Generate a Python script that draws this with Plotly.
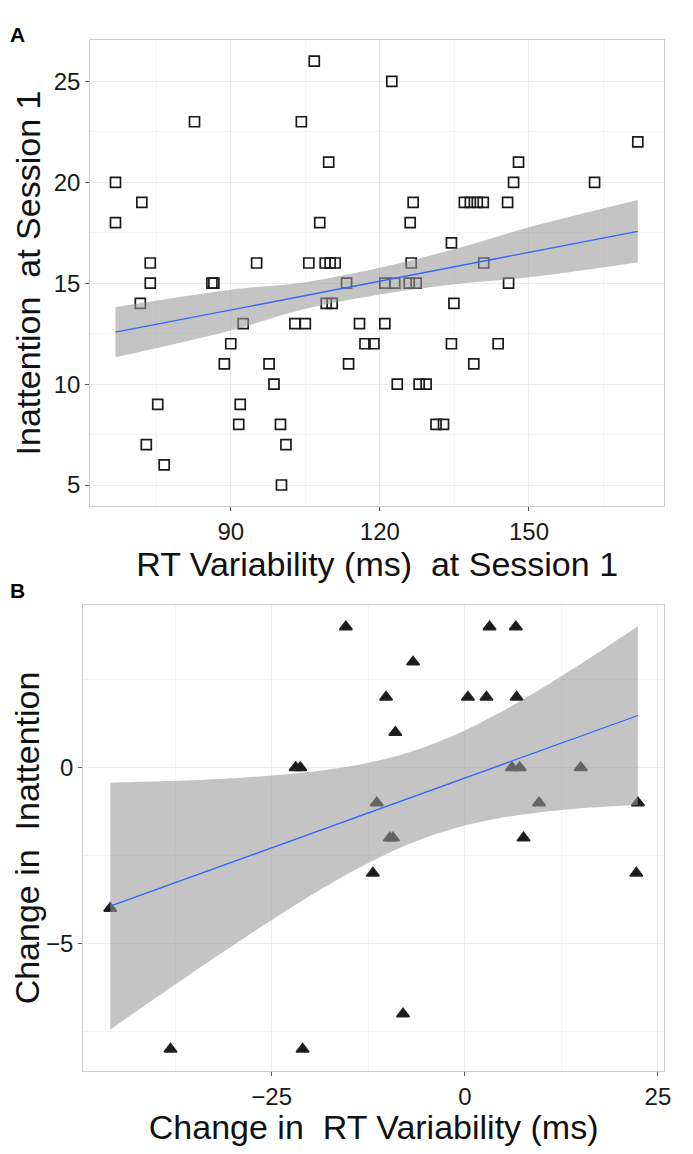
import numpy as np
import plotly.graph_objects as go

# Panel A: RT variability vs inattention at session 1
rt_s1 = [66.8, 66.8, 72.1, 71.8, 73.8, 73.8, 73.0, 75.3, 76.6, 82.7,
         86.2, 86.6, 88.7, 90.0, 91.6, 91.9, 92.5, 95.2, 97.7, 98.7,
         100.0, 100.2, 101.1, 102.9, 104.2, 105.0, 105.7, 106.8, 107.9, 109.0,
         110.0, 111.0, 109.2, 110.4, 109.7, 113.3, 113.7, 115.9, 117.0, 118.8,
         121.0, 121.0, 122.4, 123.0, 123.5, 125.9, 127.3, 126.1, 126.3, 126.7,
         127.9, 129.3, 131.3, 132.8, 134.4, 134.4, 134.9, 137.0, 138.2, 139.6,
         140.8, 138.9, 140.9, 143.8, 145.7, 145.9, 146.9, 147.9, 163.2, 171.9]
inatt_s1 = [20, 18, 19, 14, 16, 15, 7, 9, 6, 23,
            15, 15, 11, 12, 8, 9, 13, 16, 11, 10,
            8, 5, 7, 13, 23, 13, 16, 26, 18, 16,
            16, 16, 14, 14, 21, 15, 11, 13, 12, 12,
            13, 15, 25, 15, 10, 15, 15, 18, 16, 19,
            10, 10, 8, 8, 17, 12, 14, 19, 19, 19,
            19, 11, 16, 12, 19, 15, 20, 21, 20, 22]

# Panel A smoother (many overlapping points are hidden)
fit_x_a = [66.8, 90, 105, 120, 135, 150, 171.9]
fit_y_a = [12.57, 13.67, 14.39, 15.1, 15.82, 16.53, 17.57]
fit_lo_a = [11.33, 12.66, 13.73, 14.44, 14.95, 15.29, 16.02]
fit_hi_a = [13.82, 14.68, 15.05, 15.76, 16.69, 17.77, 19.12]

# Panel B: change scores
rt_change = [-45.9, -38.1, -21.9, -21.3, -21.0, -15.4, -11.9, -11.4, -10.2, -9.7,
             -9.3, -9.0, -8.0, -6.7, 0.4, 2.8, 3.2, 6.1, 6.6, 6.7,
             7.1, 7.6, 9.6, 15.0, 22.2, 22.4]
inatt_change = [-4, -8, 0, 0, -8, 4, -3, -1, 2, -2,
                -2, 1, -7, 3, 2, 2, 4, 0, 4, 2,
                0, -2, -1, 0, -3, -1]

FONT = "Liberation Sans"


def t975(df):
    # Cornish-Fisher approximation of the 97.5% t quantile
    z = 1.959964
    return z + (z**3 + z) / (4 * df) + (5 * z**5 + 16 * z**3 + 3 * z) / (96 * df**2)


def lm_band(x, y, n=80):
    x = np.asarray(x, float)
    y = np.asarray(y, float)
    b, a = np.polyfit(x, y, 1)
    resid = y - (a + b * x)
    df = len(x) - 2
    s = np.sqrt(np.sum(resid**2) / df)
    xs = np.linspace(x.min(), x.max(), n)
    se = s * np.sqrt(1 / len(x) + (xs - x.mean())**2 / np.sum((x - x.mean())**2))
    fit = a + b * xs
    w = t975(df) * se
    return xs, fit, fit - w, fit + w


fig = go.Figure()


def add_panel(x, y, symbol, size, xa, ya, band):
    fig.add_trace(go.Scatter(
        x=x, y=y, mode="markers", xaxis=xa, yaxis=ya,
        marker=dict(symbol=symbol, size=size, color="#1a1a1a",
                    line=dict(color="#222222", width=1.7)),
        showlegend=False, hoverinfo="skip"))
    bx, lo, hi, fx, fy = band
    fig.add_trace(go.Scatter(
        x=bx, y=lo, mode="lines", line=dict(width=0, shape="spline"),
        xaxis=xa, yaxis=ya, showlegend=False, hoverinfo="skip"))
    fig.add_trace(go.Scatter(
        x=bx, y=hi, mode="lines", fill="tonexty", fillcolor="rgba(153,153,153,0.58)",
        line=dict(width=0, shape="spline"), xaxis=xa, yaxis=ya,
        showlegend=False, hoverinfo="skip"))
    fig.add_trace(go.Scatter(
        x=fx, y=fy, mode="lines", line=dict(color="#3366FF", width=1.3),
        xaxis=xa, yaxis=ya, showlegend=False, hoverinfo="skip"))


add_panel(rt_s1, inatt_s1, "square-open", 10, "x", "y",
          (fit_x_a, fit_lo_a, fit_hi_a,
           [fit_x_a[0], fit_x_a[-1]], [fit_y_a[0], fit_y_a[-1]]))
xs_b, fit_b, lo_b, hi_b = lm_band(rt_change, inatt_change)
add_panel(rt_change, inatt_change, "triangle-up", 11, "x2", "y2",
          (xs_b, lo_b, hi_b, xs_b, fit_b))


def axis(domain, rng, dtick, minor, title, anchor, standoff):
    return dict(
        domain=domain, range=rng, anchor=anchor, tick0=0, dtick=dtick,
        showgrid=True, gridcolor="#EBEBEB", gridwidth=1,
        minor=dict(dtick=minor, tick0=0, showgrid=True, gridcolor="#F4F4F4", ticklen=0),
        zeroline=False, showline=True, mirror=True, linecolor="#CCCCCC", linewidth=1,
        ticks="outside", ticklen=4, tickcolor="#555555", tickwidth=1,
        tickfont=dict(family=FONT, size=24, color="#1a1a1a"),
        title=dict(text=title, font=dict(family=FONT, size=34, color="#111111"),
                   standoff=standoff))


# page has an 8px body margin; keep the figure inside the window on all sides
OFF = 8
W, H = 693 - 2 * OFF, 1154 - 2 * OFF


def px_x(p):
    return (p - OFF) / W


def px_y(p):
    return 1 - (p - OFF) / H


fig.update_layout(
    width=W, height=H, margin=dict(l=0, r=0, t=0, b=0),
    plot_bgcolor="white", paper_bgcolor="white",
    xaxis=axis([px_x(91), px_x(671)], [61.7, 177.2], 30, 15,
               "RT Variability (ms)  at Session 1", "y", 2),
    yaxis=axis([px_y(506), px_y(40)], [3.96, 27.05], 5, 2.5,
               "Inattention  at Session 1", "x", 2),
    xaxis2=axis([px_x(84), px_x(671)], [-49.4, 25.8], 25, 12.5,
                "Change in  RT Variability (ms)", "y2", 0),
    yaxis2=axis([px_y(1071), px_y(605)], [-8.62, 4.62], 5, 2.5,
                "Change in  Inattention", "x2", 2),
    annotations=[
        dict(text="<b>A</b>", x=px_x(18), y=px_y(35), xref="paper", yref="paper",
             xanchor="center", yanchor="middle",
             showarrow=False, font=dict(family=FONT, size=21, color="black")),
        dict(text="<b>B</b>", x=px_x(18), y=px_y(590), xref="paper", yref="paper",
             xanchor="center", yanchor="middle",
             showarrow=False, font=dict(family=FONT, size=21, color="black")),
    ],
)

fig.write_html("out.html")
